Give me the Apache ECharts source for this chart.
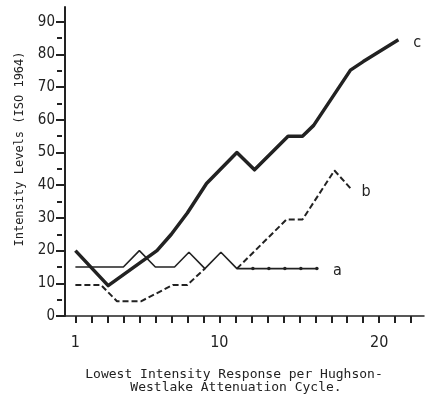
<!DOCTYPE html>
<html>
<head>
<meta charset="utf-8">
<script src="https://cdn.jsdelivr.net/npm/echarts@6/dist/echarts.min.js"></script>
<style>
html,body{margin:0;padding:0;background:#fff;}
#chart{width:428px;height:403px;}
</style>
</head>
<body>
<div id="chart"></div>
<script>
// ---- data ----
const xTickValues = [1,2,3,4,5,6,7,8,9,10,11,12,13,14,15,16,17,18,19,20,21,22];
const xLabelValues = [1,10,20];
const yMajorValues = [0,10,20,30,40,50,60,70,80,90];
const yMinorValues = [5,15,25,35,45,55,65,75,85];

const seriesA = [[1,15],[4,15],[5,20],[6,15],[7.2,15],[8.1,19.5],[9.1,14.5],[10.1,19.5],[11.1,14.5],[12.1,14.5],[13.1,14.5],[14.1,14.5],[15.1,14.5],[16.1,14.5]];
const seriesADotFrom = 12;
const seriesB = [[1,9.5],[2.6,9.5],[3.6,4.5],[5.1,4.5],[7.1,9.5],[8,9.5],[9.1,14.5],[10.1,'-'],[11.1,14.5],[14.2,29.5],[15.2,29.5],[17.2,44.5],[18.3,38.5]];
const seriesC = [[1,20],[3.05,9.3],[6.1,20],[7,25],[8,31.5],[9.2,40.5],[11.1,50],[12.2,44.7],[14.3,55],[15.2,55],[15.9,58.3],[18.2,75.2],[19,77.8],[21.2,84.5]];
const seriesNames = ['a','b','c'];

const ink = '#222';
const numFont = '"Liberation Sans Narrow", "DejaVu Sans Condensed", "DejaVu Sans", sans-serif';
const chart = echarts.init(document.getElementById('chart'), null, {renderer:'canvas'});

const aData = seriesA.map(p => p[0] >= seriesADotFrom
  ? {value:p, symbol:'circle', symbolSize:3.5}
  : {value:p, symbol:'none'});

const option = {
  backgroundColor:'#fff',
  animation:false,
  grid:{left:65, right:4, top:7, bottom:87, containLabel:false},
  xAxis:[
    {type:'value', min:0.35, max:22.8, axisLine:{show:true, lineStyle:{color:ink, width:1.5}},
     axisTick:{show:false}, axisLabel:{show:false}, splitLine:{show:false}},
    {type:'value', min:0.35, max:22.8, position:'bottom', offset:6,
     axisLine:{show:false},
     axisTick:{show:true, length:7, customValues:xTickValues, lineStyle:{color:ink, width:2}},
     axisLabel:{show:true, customValues:xLabelValues, margin:13, color:ink,
       fontFamily:numFont, fontSize:16},
     splitLine:{show:false}}
  ],
  yAxis:[
    {type:'value', min:0, max:94.5, position:'left',
     axisLine:{show:true, lineStyle:{color:ink, width:2}},
     axisTick:{show:true, length:9, customValues:yMajorValues, lineStyle:{color:ink, width:2}},
     axisLabel:{show:true, customValues:yMajorValues, margin:10, color:ink,
       fontFamily:numFont, fontSize:15},
     splitLine:{show:false}},
    {type:'value', min:0, max:94.5, position:'left', offset:3,
     axisLine:{show:false},
     axisTick:{show:true, length:5, customValues:yMinorValues, lineStyle:{color:ink, width:2}},
     axisLabel:{show:false}, splitLine:{show:false}}
  ],
  series:[
    {name:seriesNames[0], type:'line', xAxisIndex:0, yAxisIndex:0, data:aData,
     showSymbol:true, symbol:'none', itemStyle:{color:ink}, lineStyle:{color:ink, width:1.6}},
    {name:seriesNames[1], type:'line', xAxisIndex:0, yAxisIndex:0, data:seriesB,
     showSymbol:false, symbol:'none', connectNulls:false,
     lineStyle:{color:ink, width:2, type:[6,3]}},
    {name:seriesNames[2], type:'line', xAxisIndex:0, yAxisIndex:0, data:seriesC,
     showSymbol:false, symbol:'none', lineStyle:{color:ink, width:3.5, join:'round'}}
  ],
  graphic:[
    {type:'text', x:20, y:149, rotation:Math.PI/2,
     style:{text:'Intensity Levels (ISO 1964)', fill:ink, align:'center', verticalAlign:'middle',
       font:'12px "DejaVu Sans Mono", monospace'}},
    {type:'text', x:234, y:375,
     style:{text:'Lowest Intensity Response per Hughson-', fill:ink, align:'center', verticalAlign:'middle',
       font:'13px "DejaVu Sans Mono", monospace'}},
    {type:'text', x:236, y:388,
     style:{text:'Westlake Attenuation Cycle.', fill:ink, align:'center', verticalAlign:'middle',
       font:'13px "DejaVu Sans Mono", monospace'}},
    {type:'text', x:337.5, y:270.5, style:{text:seriesNames[0], fill:ink, align:'center', verticalAlign:'middle',
       font:'16px ' + numFont}},
    {type:'text', x:366, y:191.7, style:{text:seriesNames[1], fill:ink, align:'center', verticalAlign:'middle',
       font:'16px ' + numFont}},
    {type:'text', x:417.3, y:42.5, style:{text:seriesNames[2], fill:ink, align:'center', verticalAlign:'middle',
       font:'16px ' + numFont}}
  ]
};
chart.setOption(option);
</script>
</body>
</html>
